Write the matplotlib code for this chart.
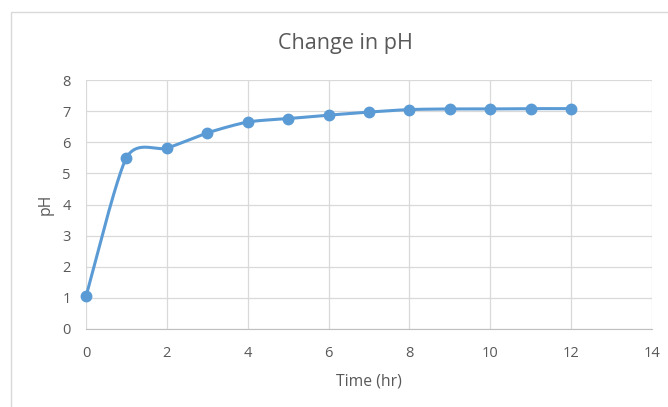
import numpy as np
import matplotlib
matplotlib.use("Agg")
import matplotlib.pyplot as plt
from matplotlib.patches import Rectangle

# data
tempo = [0, 1, 2, 3, 4, 5, 6, 7, 8, 9, 10, 11, 12]
ph = [1.05, 5.5, 5.81, 6.3, 6.65, 6.76, 6.87, 6.97, 7.05, 7.07, 7.07, 7.08, 7.08]

titulo = "Change in pH"
rotulo_x = "Time (hr)"
rotulo_y = "pH"

cinza = "#595959"
azul = "#5B9BD5"


# curva suavizada estilo excel (bezier, pontos de controle 1/6 com tensao)
def suaviza(x, y, tensao=0.75, n=40):
    x = np.asarray(x, float)
    y = np.asarray(y, float)
    k = tensao / 6
    xs, ys = [], []
    for i in range(len(x) - 1):
        x0, y0 = (x[i - 1], y[i - 1]) if i > 0 else (x[i], y[i])
        x3, y3 = (x[i + 2], y[i + 2]) if i + 2 < len(x) else (x[i + 1], y[i + 1])
        c1x = x[i] + (x[i + 1] - x0) * k
        c1y = y[i] + (y[i + 1] - y0) * k
        c2x = x[i + 1] - (x3 - x[i]) * k
        c2y = y[i + 1] - (y3 - y[i]) * k
        t = np.linspace(0, 1, n)
        a = (1 - t) ** 3
        b = 3 * (1 - t) ** 2 * t
        c = 3 * (1 - t) * t ** 2
        d = t ** 3
        xs.append(a * x[i] + b * c1x + c * c2x + d * x[i + 1])
        ys.append(a * y[i] + b * c1y + c * c2y + d * y[i + 1])
    return np.concatenate(xs), np.concatenate(ys)


plt.rcParams['font.family'] = ['Open Sans', 'DejaVu Sans']

fig = plt.figure(figsize=(6.68, 4.07), dpi=100)
ax = fig.add_axes([86 / 668, 78 / 407, (652 - 86) / 668, (329 - 80) / 407])

# borda do grafico
fig.add_artist(Rectangle((11 / 668, -0.1), 1.2, (407 - 12) / 407 + 0.1,
                         transform=fig.transFigure, fill=False,
                         edgecolor="#D9D9D9", linewidth=1))

sx, sy = suaviza(tempo, ph)
ax.plot(sx, sy, color=azul, linewidth=2.2, zorder=3, solid_capstyle="round")
ax.plot(tempo, ph, "o", color=azul, markersize=7.5, zorder=4, clip_on=False)

ax.set_xlim(0, 14)
ax.set_ylim(0, 8)
ax.set_xticks(range(0, 15, 2))
ax.set_yticks(range(0, 9))
ax.grid(True, color="#D9D9D9", linewidth=0.9)
ax.set_axisbelow(True)

for lado in ["top", "right", "left"]:
    ax.spines[lado].set_visible(False)
ax.spines["bottom"].set_color("#BFBFBF")
ax.tick_params(length=0, labelsize=10.5, colors=cinza)
ax.tick_params(axis="x", pad=12.5)
ax.tick_params(axis="y", pad=11)

ax.set_xlabel(rotulo_x, fontsize=11.3, color=cinza, labelpad=8.5)
ax.set_ylabel(rotulo_y, fontsize=11.3, color=cinza, labelpad=6)
fig.text(345 / 668, 1 - 44 / 407, titulo, ha="center", va="center",
         fontsize=15.5, color=cinza)

fig.savefig("out.png", dpi=100)
